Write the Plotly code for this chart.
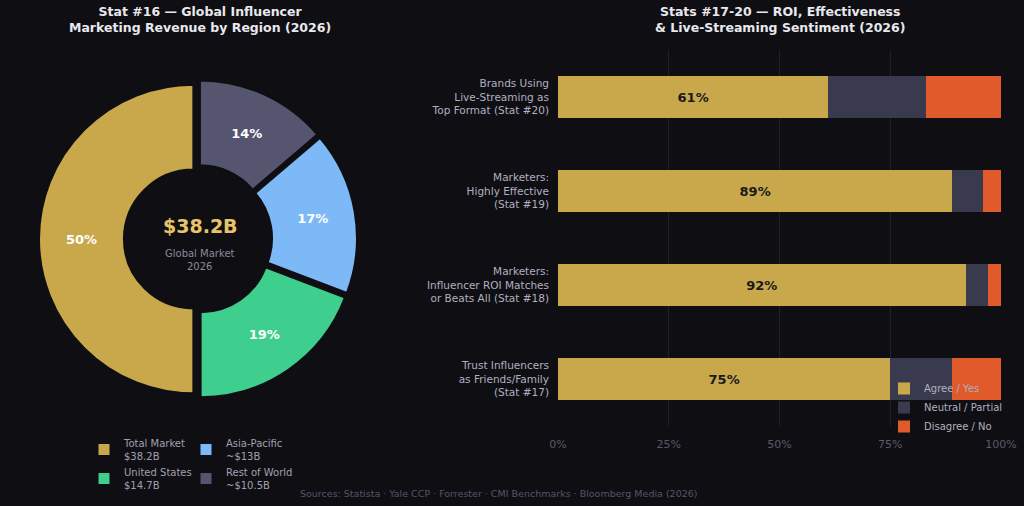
import plotly.graph_objects as go

# ---------------- data ----------------
regions = ["Total Market", "United States", "Asia-Pacific", "Rest of World"]
region_values = [38.2, 14.7, 13.0, 10.5]
region_legend = ["Total Market<br>$38.2B", "United States<br>$14.7B",
                 "Asia-Pacific<br>~$13B", "Rest of World<br>~$10.5B"]
region_colors = ["#C9A84C", "#3ECF8E", "#7DB8F7", "#555570"]

categories = [
    "Brands Using<br>Live-Streaming as<br>Top Format (Stat #20)",
    "Marketers:<br>Highly Effective<br>(Stat #19)",
    "Marketers:<br>Influencer ROI Matches<br>or Beats All (Stat #18)",
    "Trust Influencers<br>as Friends/Family<br>(Stat #17)",
]
agree = [61, 89, 92, 75]
neutral = [22, 7, 5, 14]
disagree = [17, 4, 3, 11]
x_ticks = [0, 25, 50, 75, 100]
x_tick_labels = ["0%", "25%", "50%", "75%", "100%"]

BG = "#0F0F13"
FONT = "DejaVu Sans"
W, H = 1024, 506

def py(p):
    return 1 - p / H

def px(p):
    return p / W

fig = go.Figure()

# ---------------- donut ----------------
fig.add_trace(go.Pie(
    labels=regions, values=region_values,
    marker=dict(colors=region_colors, line=dict(color=BG, width=2)),
    hole=0.45, pull=[0.03] * 4, sort=False, direction="counterclockwise",
    rotation=180, texttemplate="%{percent:.0%}", textposition="inside",
    insidetextorientation="horizontal",
    textfont=dict(family=FONT, size=13, color="#FFFFFF", weight="bold"),
    domain=dict(x=[px(38), px(358)], y=[py(398), py(80)]),
    showlegend=False, hoverinfo="label+value",
))

# legend proxies for the donut (two columns)
for i, (lab, col) in enumerate(zip(region_legend, region_colors)):
    fig.add_trace(go.Scatter(
        x=[None], y=[None], mode="markers", name=lab,
        marker=dict(symbol="square", size=11, color=col),
        legend="legend2" if i in (0, 1) else "legend3",
        xaxis="x2", yaxis="y2", hoverinfo="skip",
    ))

# ---------------- stacked bars ----------------
fig.add_trace(go.Bar(
    y=categories, x=agree, orientation="h", name="Agree / Yes",
    marker=dict(color="#C9A84C", line=dict(width=0)),
    text=[f"{v}%" for v in agree], textposition="inside",
    insidetextanchor="middle",
    textfont=dict(family=FONT, size=13, color="#1A1A1A", weight="bold"),
    legend="legend",
))
fig.add_trace(go.Bar(
    y=categories, x=neutral, orientation="h", name="Neutral / Partial",
    marker=dict(color="#3A3A4E", line=dict(width=0)), legend="legend",
))
fig.add_trace(go.Bar(
    y=categories, x=disagree, orientation="h", name="Disagree / No",
    marker=dict(color="#E05A2B", line=dict(width=0)), legend="legend",
))

fig.update_layout(
    width=W, height=H,
    paper_bgcolor=BG, plot_bgcolor=BG,
    margin=dict(l=0, r=0, t=0, b=0, autoexpand=False),
    font=dict(family=FONT, color="#B0B0C0", size=11),
    barmode="stack", bargap=0.55,
    xaxis=dict(domain=[px(558), px(1001)], range=[0, 100], tickvals=x_ticks,
               ticktext=x_tick_labels, showgrid=True, gridcolor="#202028",
               gridwidth=1, zeroline=False, showline=False,
               tickfont=dict(color="#5A5A6A", size=11), ticks="",
               ticklabelstandoff=10,
               anchor="y", automargin=False, fixedrange=True),
    yaxis=dict(domain=[py(426), py(50)], autorange="reversed",
               showgrid=False, zeroline=False, showline=False,
               tickfont=dict(color="#B0B0C0", size=10.5), ticks="",
               ticklabelstandoff=8, anchor="x", automargin=False),
    xaxis2=dict(domain=[0, 0.01], visible=False, anchor="y2"),
    yaxis2=dict(domain=[0, 0.01], visible=False, anchor="x2"),
    legend=dict(x=px(884), y=py(374), xanchor="left", yanchor="top",
                bgcolor="rgba(0,0,0,0)", traceorder="normal",
                font=dict(size=10, color="#B0B0C0"), tracegroupgap=0),
    legend2=dict(x=px(84), y=py(430), xanchor="left", yanchor="top",
                 bgcolor="rgba(0,0,0,0)", traceorder="normal",
                 font=dict(size=10, color="#A0A0B0"), tracegroupgap=0),
    legend3=dict(x=px(186), y=py(430), xanchor="left", yanchor="top",
                 bgcolor="rgba(0,0,0,0)", traceorder="normal",
                 font=dict(size=10, color="#A0A0B0"), tracegroupgap=0),
    annotations=[
        dict(text="<b>Stat #16 — Global Influencer<br>Marketing Revenue by Region (2026)</b>",
             x=px(200), y=py(20), xref="paper", yref="paper", showarrow=False,
             xanchor="center", yanchor="middle",
             font=dict(size=12.5, color="#E8E8EE")),
        dict(text="<b>Stats #17-20 — ROI, Effectiveness<br>& Live-Streaming Sentiment (2026)</b>",
             x=px(780), y=py(20), xref="paper", yref="paper", showarrow=False,
             xanchor="center", yanchor="middle",
             font=dict(size=12.5, color="#E8E8EE")),
        dict(text="<b>$38.2B</b>", x=px(200), y=py(226), xref="paper", yref="paper",
             xanchor="center", yanchor="middle",
             showarrow=False, font=dict(size=19, color="#E8C468")),
        dict(text="Global Market<br>2026", x=px(200), y=py(260), xref="paper",
             xanchor="center", yanchor="middle",
             yref="paper", showarrow=False, font=dict(size=10, color="#8A8A9A")),
        dict(text="Sources: Statista · Yale CCP · Forrester · CMI Benchmarks · Bloomberg Media (2026)",
             x=px(498), y=py(493), xref="paper", yref="paper", showarrow=False,
             xanchor="center", yanchor="middle",
             font=dict(size=9.5, color="#55556A")),
    ],
)

fig.write_html("out.html")
